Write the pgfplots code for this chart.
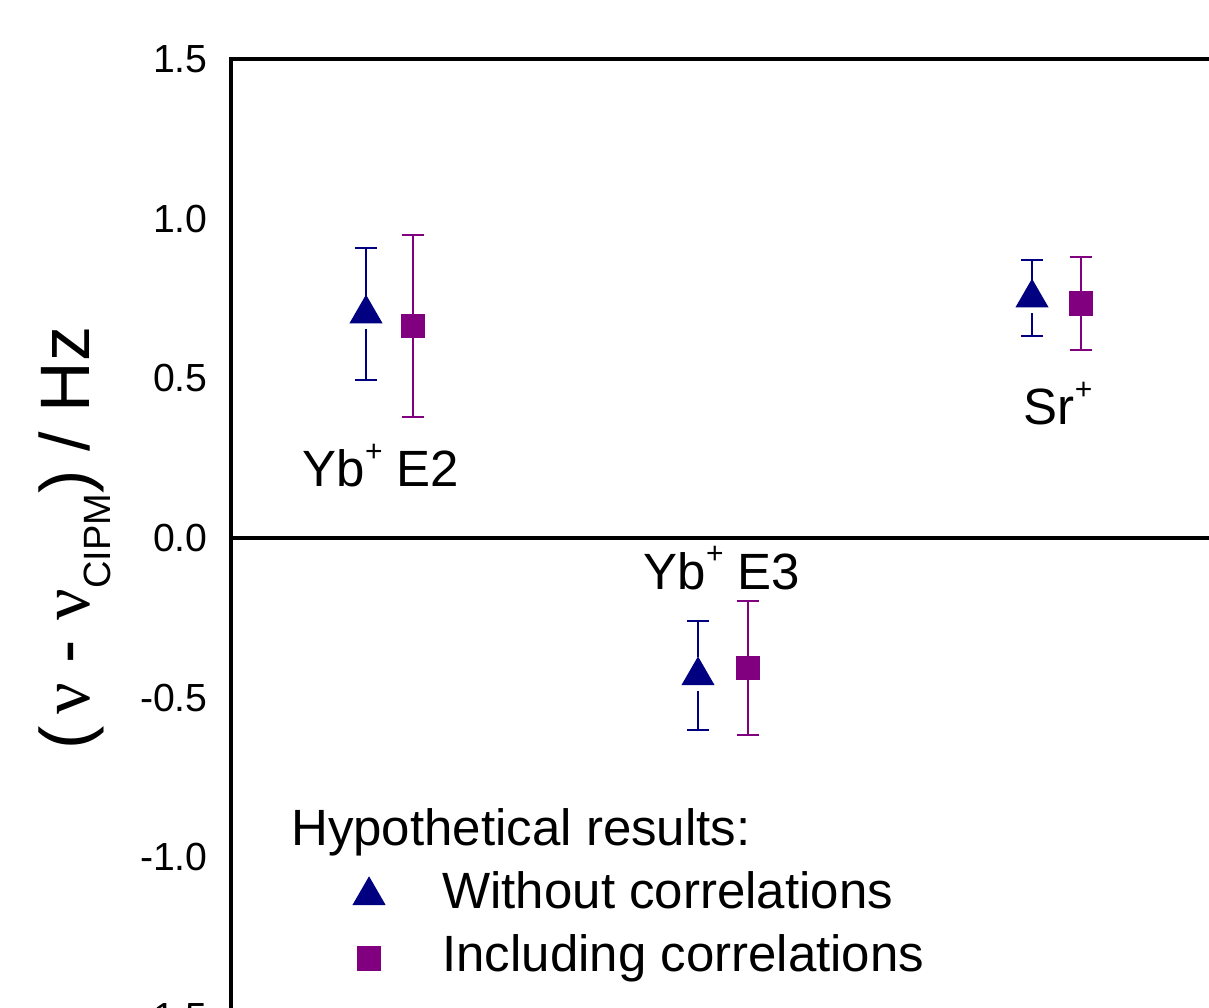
\documentclass[border=0pt]{standalone}
\usepackage{pgfplots}
\pgfplotsset{compat=1.18}
\usepackage{pgfplotstable}
\usepackage{fontspec}
\setmainfont{Liberation Sans}
\newfontfamily\greek{Liberation Serif}

\definecolor{navyblue}{RGB}{0,0,128}
\definecolor{plum}{RGB}{128,0,128}

% x = position across the panel, y = offset in Hz, e = half error bar
\pgfplotstableread{
x    y      e
366  0.702  0.207
698  -0.431 0.171
1032 0.752  0.119
}\without
\pgfplotstableread{
x    y      e
413  0.664  0.285
748  -0.407 0.210
1081 0.735  0.146
}\including

\newcommand{\lbl}{\fontsize{12.75}{15}\selectfont}
\newcommand{\ion}[1]{#1\raisebox{0.5em}{\fontsize{7.5}{7.5}\selectfont +}}

\begin{document}
\begin{tikzpicture}
\useasboundingbox (0,0) rectangle (302.25pt,-251.75pt);
\clip (0,0) rectangle (302.25pt,-251.75pt);
\begin{axis}[
  at={(57.75pt,-14.75pt)}, anchor=north west,
  x=0.25pt, y=79.83pt,
  xmin=231, xmax=1300, ymin=-1.5, ymax=1.5,
  xtick=\empty,
  ytick={-1.5,-1,-0.5,0,0.5,1,1.5},
  major tick length=0pt,
  axis line style={line width=0.8pt},
  yticklabel style={font=\fontsize{9.8}{11}\selectfont, xshift=-2.3pt,
    /pgf/number format/.cd, fixed, fixed zerofill, precision=1, assume math mode=true},
  clip=false,
  legend image code/.code={\draw[#1] plot coordinates {(0pt,0pt)};},
  legend cell align=left,
  legend style={draw=none, fill=none, inner sep=0pt, font=\lbl,
    at={(axis cs:353,-0.842)}, anchor=north west,
    nodes={inner sep=0pt, text height=9.5pt, text depth=3pt},
    row sep=3.2pt,
    /tikz/every odd column/.append style={column sep=14.5pt}},
]
\draw[line width=0.8pt] (axis cs:231,0) -- (axis cs:1300,0);

\addlegendimage{empty legend}
\addlegendentry{\hspace*{-37.75pt}Hypothetical results:}

% error bars of the uncorrelated results, with a small gap under the triangle
\addplot[forget plot, only marks, mark=square*, mark size=4pt,
  mark options={white, draw=none, yshift=0.33pt},
  error bars/.cd, y dir=both, y explicit,
  error bar style={navyblue, line width=0.45pt},
  error mark options={navyblue, rotate=90, mark size=2.75pt, line width=0.45pt}]
  table[x=x, y=y, y error=e] {\without};
\addplot[only marks, mark=triangle*, mark size=4.4pt, navyblue]
  table[x=x, y=y] {\without};
\addlegendentry{Without correlations}

\addplot[only marks, mark=square*, mark size=2.9pt, plum,
  error bars/.cd, y dir=both, y explicit,
  error bar style={plum, line width=0.45pt},
  error mark options={plum, rotate=90, mark size=2.75pt, line width=0.45pt}]
  table[x=x, y=y, y error=e] {\including};
\addlegendentry{Including correlations}

\node[anchor=base, font=\lbl] at (axis cs:381,0.16) {\ion{Yb} E2};
\node[anchor=base, font=\lbl] at (axis cs:722,-0.16) {\ion{Yb} E3};
\node[anchor=base, font=\lbl] at (axis cs:1058,0.354) {\ion{Sr}};
\end{axis}
\node[rotate=90, font=\fontsize{17.5}{20}\selectfont] at (18.75pt,-134.5pt)
  {(\,{\greek ν} - {\greek ν}\raisebox{-0.3em}{\fontsize{9.5}{10}\selectfont CIPM}) / Hz};
\end{tikzpicture}
\end{document}
